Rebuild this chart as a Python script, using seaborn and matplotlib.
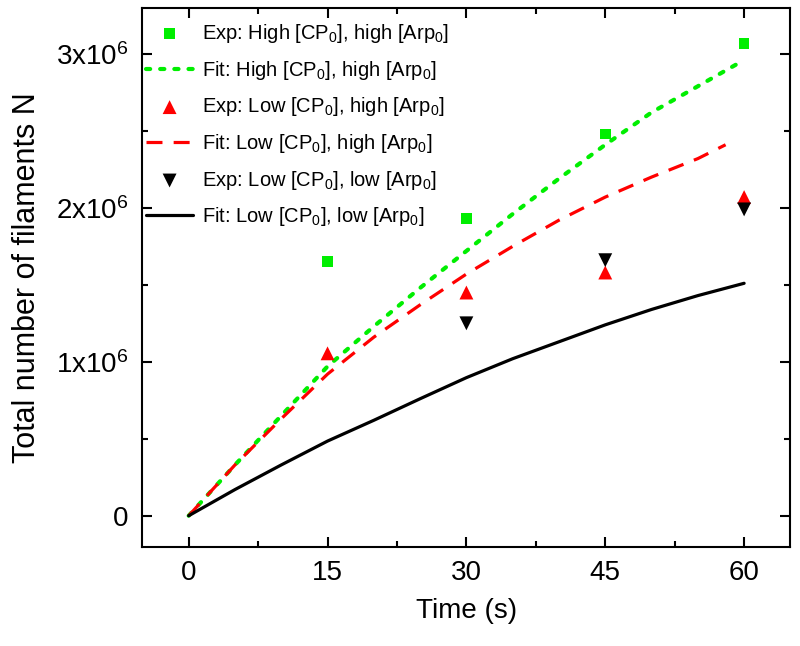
import matplotlib
matplotlib.use("Agg")
import matplotlib.pyplot as plt
import seaborn as sns
from matplotlib.ticker import AutoMinorLocator

# ==========================================
#               DATA
# ==========================================

exp_time = [15, 30, 45, 60]
exp_high_cp_high_arp = [1.65e6, 1.93e6, 2.48e6, 3.07e6]
exp_low_cp_high_arp = [1.055e6, 1.45e6, 1.58e6, 2.07e6]
exp_time_ll = [30, 45, 60]
exp_low_cp_low_arp = [1.25e6, 1.66e6, 1.99e6]

fit_time_hh = [0, 5, 10, 15, 20, 25, 30, 35, 40, 45, 50, 55, 59.4]
fit_high_cp_high_arp = [0, 0.33e6, 0.65e6, 0.97e6, 1.23e6, 1.48e6, 1.72e6,
                        1.96e6, 2.19e6, 2.41e6, 2.62e6, 2.79e6, 2.94e6]
fit_time_lh = [0, 5, 10, 15, 20, 25, 30, 35, 40, 45, 50, 55, 58]
fit_low_cp_high_arp = [0, 0.33e6, 0.63e6, 0.92e6, 1.16e6, 1.37e6, 1.57e6,
                       1.75e6, 1.92e6, 2.07e6, 2.20e6, 2.32e6, 2.41e6]
fit_time_ll = [0, 5, 10, 15, 20, 25, 30, 35, 40, 45, 50, 55, 60]
fit_low_cp_low_arp = [0, 0.17e6, 0.33e6, 0.485e6, 0.62e6, 0.76e6, 0.897e6,
                      1.02e6, 1.13e6, 1.24e6, 1.34e6, 1.43e6, 1.51e6]

x_ticks = [0, 15, 30, 45, 60]
y_ticks = [0, 1e6, 2e6, 3e6]
y_tick_labels = ["0", "1x10$^6$", "2x10$^6$", "3x10$^6$"]

labels = [
    "Exp: High [CP$_0$], high [Arp$_0$]",
    "Fit: High [CP$_0$], high [Arp$_0$]",
    "Exp: Low [CP$_0$], high [Arp$_0$]",
    "Fit: Low [CP$_0$], high [Arp$_0$]",
    "Exp: Low [CP$_0$], low [Arp$_0$]",
    "Fit: Low [CP$_0$], low [Arp$_0$]",
]

# ==========================================
#               PLOT
# ==========================================

sns.set_style("ticks")
plt.rcParams["font.family"] = ["Liberation Sans", "DejaVu Sans"]
plt.rcParams["mathtext.fontset"] = "custom"
plt.rcParams["mathtext.rm"] = "Liberation Sans"
plt.rcParams["mathtext.default"] = "regular"
for key in ["text.color", "axes.labelcolor", "xtick.color", "ytick.color", "axes.edgecolor"]:
    plt.rcParams[key] = "black"

GREEN = "#00ee00"
RED = "#ff0000"
BLACK = "#000000"

fig = plt.figure(figsize=(8, 6.46), dpi=100)
ax = fig.add_axes([0.178, 0.154, 0.81, 0.834])

sns.scatterplot(x=exp_time, y=exp_high_cp_high_arp, marker="s", s=60, color=GREEN,
                edgecolor="none", ax=ax, label=labels[0], zorder=3)
sns.lineplot(x=fit_time_hh, y=fit_high_cp_high_arp, color=GREEN, linestyle=(0, (1, 2.4)),
             linewidth=3, ax=ax, label=labels[1], dash_capstyle="round")
sns.scatterplot(x=exp_time, y=exp_low_cp_high_arp, marker="^", s=100, color=RED,
                edgecolor="none", ax=ax, label=labels[2], zorder=3)
sns.lineplot(x=fit_time_lh, y=fit_low_cp_high_arp, color=RED, linestyle=(0, (5, 3.5)),
             linewidth=2.3, ax=ax, label=labels[3])
sns.scatterplot(x=exp_time_ll, y=exp_low_cp_low_arp, marker="v", s=100, color=BLACK,
                edgecolor="none", ax=ax, label=labels[4], zorder=3)
sns.lineplot(x=fit_time_ll, y=fit_low_cp_low_arp, color=BLACK, linestyle="-",
             linewidth=2.3, ax=ax, label=labels[5])

ax.set_xlim(-5, 65)
ax.set_ylim(-0.2e6, 3.3e6)
ax.set_xticks(x_ticks)
ax.set_yticks(y_ticks)
ax.set_yticklabels(y_tick_labels)
ax.xaxis.set_minor_locator(AutoMinorLocator(2))
ax.yaxis.set_minor_locator(AutoMinorLocator(2))
ax.tick_params(which="both", direction="in", top=True, right=True, width=1.5,
               labelsize=20, pad=10)
ax.tick_params(which="major", length=7)
ax.tick_params(which="minor", length=4.5)
for spine in ax.spines.values():
    spine.set_linewidth(1.5)

ax.set_xlabel("Time (s)", fontsize=20, labelpad=8)
ax.set_ylabel("Total number of filaments N", fontsize=22, labelpad=10)

handles, lbls = ax.get_legend_handles_labels()
ax.legend(handles, lbls, loc="upper left", bbox_to_anchor=(0.0, 0.981), frameon=False,
          fontsize=14.5, borderaxespad=0, borderpad=0.2, handlelength=2.3,
          handletextpad=0.45, labelspacing=0.68)

plt.savefig("out.png", dpi=100)
plt.close()
